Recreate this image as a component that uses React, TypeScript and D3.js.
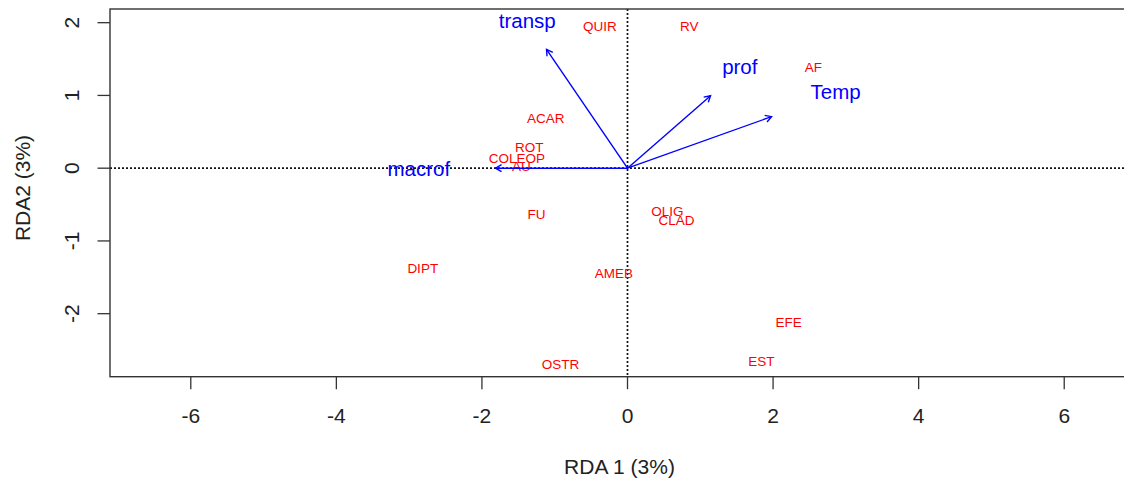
import React from "react";
import * as d3 from "d3";

const speciesNames = ["QUIR", "RV", "AF", "ACAR", "ROT", "COLEOP", "AU", "FU", "OLIG", "CLAD", "DIPT", "AMEB", "EFE", "EST", "OSTR"];
const speciesX = [-0.381, 0.849, 2.553, -1.123, -1.349, -1.521, -1.457, -1.251, 0.547, 0.673, -2.813, -0.188, 2.212, 1.841, -0.919];
const speciesY = [1.954, 1.954, 1.391, 0.683, 0.284, 0.136, 0.03, -0.629, -0.598, -0.715, -1.376, -1.447, -2.12, -2.654, -2.698];

const envNames = ["transp", "prof", "Temp", "macrof"];
const envX = [-1.113, 1.141, 1.979, -1.814];
const envY = [1.634, 0.996, 0.708, 0.0];
const envLabelX = [-1.377, 1.543, 2.86, -2.868];
const envLabelY = [2.03, 1.39, 1.05, -0.008];

const xTicks = [-6, -4, -2, 0, 2, 4, 6];
const yTicks = [-2, -1, 0, 1, 2];
const xTitle = "RDA 1 (3%)";
const yTitle = "RDA2 (3%)";

const W = 1124;
const H = 482;
const LEFT = 110, RIGHT = 1129, TOP = 9, BOTTOM = 376.7;
const xDomain: [number, number] = [-7.11, 6.89];
const yDomain: [number, number] = [-2.866, 2.188];

export default function App() {
  const x = d3.scaleLinear().domain(xDomain).range([LEFT, RIGHT]);
  const y = d3.scaleLinear().domain(yDomain).range([BOTTOM, TOP]);
  const font = "'Liberation Sans', Arial, sans-serif";
  const headLen = 7;
  const headAng = Math.PI / 6;

  return (
    <svg
      width={W}
      height={H}
      style={{ position: "fixed", left: 0, top: 0, background: "#fff" }}
      fontFamily={font}
    >
      <rect x={0} y={0} width={W} height={H} fill="#fff" />
      {/* zero lines */}
      <line x1={x(0)} x2={x(0)} y1={TOP} y2={BOTTOM} stroke="#111" strokeWidth={1.7} strokeDasharray="2,2" />
      <line x1={LEFT} x2={RIGHT} y1={y(0)} y2={y(0)} stroke="#111" strokeWidth={1.7} strokeDasharray="2,2" />

      {/* species labels */}
      {speciesNames.map((n, i) => (
        <text
          key={n}
          x={x(speciesX[i])}
          y={y(speciesY[i])}
          dy="0.35em"
          textAnchor="middle"
          fontSize={13.5}
          fill="#ff0000"
        >
          {n}
        </text>
      ))}

      {/* biplot arrows */}
      {envNames.map((n, i) => {
        const x0 = x(0), y0 = y(0);
        const x1 = x(envX[i]), y1 = y(envY[i]);
        const a = Math.atan2(y1 - y0, x1 - x0);
        const p1 = [x1 - headLen * Math.cos(a - headAng), y1 - headLen * Math.sin(a - headAng)];
        const p2 = [x1 - headLen * Math.cos(a + headAng), y1 - headLen * Math.sin(a + headAng)];
        return (
          <g key={n} stroke="#0000ff" strokeWidth={1.4} fill="none">
            <line x1={x0} y1={y0} x2={x1} y2={y1} />
            <polyline points={`${p1[0]},${p1[1]} ${x1},${y1} ${p2[0]},${p2[1]}`} />
          </g>
        );
      })}
      {envNames.map((n, i) => (
        <text
          key={n + "-l"}
          x={x(envLabelX[i])}
          y={y(envLabelY[i])}
          dy="0.35em"
          textAnchor="middle"
          fontSize={20.5}
          fill="#0000ff"
        >
          {n}
        </text>
      ))}

      {/* box */}
      <rect x={LEFT} y={TOP} width={RIGHT - LEFT} height={BOTTOM - TOP} fill="none" stroke="#333" strokeWidth={1.4} />

      {/* x axis */}
      {xTicks.map((t) => (
        <g key={"x" + t}>
          <line x1={x(t)} x2={x(t)} y1={BOTTOM} y2={BOTTOM + 12.5} stroke="#333" strokeWidth={1.3} />
          <text x={x(t)} y={416} dy="0.35em" textAnchor="middle" fontSize={21} fill="#222">
            {t}
          </text>
        </g>
      ))}
      {/* y axis */}
      {yTicks.map((t) => (
        <g key={"y" + t}>
          <line x1={LEFT - 12.5} x2={LEFT} y1={y(t)} y2={y(t)} stroke="#333" strokeWidth={1.3} />
          <text
            transform={`translate(71.5,${y(t)}) rotate(-90)`}
            dy="0.35em"
            textAnchor="middle"
            fontSize={21}
            fill="#222"
          >
            {t}
          </text>
        </g>
      ))}
      <text x={619.5} y={467} dy="0.35em" textAnchor="middle" fontSize={21} fill="#222">
        {xTitle}
      </text>
      <text
        transform={`translate(22.5,188) rotate(-90)`}
        dy="0.35em"
        textAnchor="middle"
        fontSize={21}
        fill="#222"
      >
        {yTitle}
      </text>
    </svg>
  );
}
